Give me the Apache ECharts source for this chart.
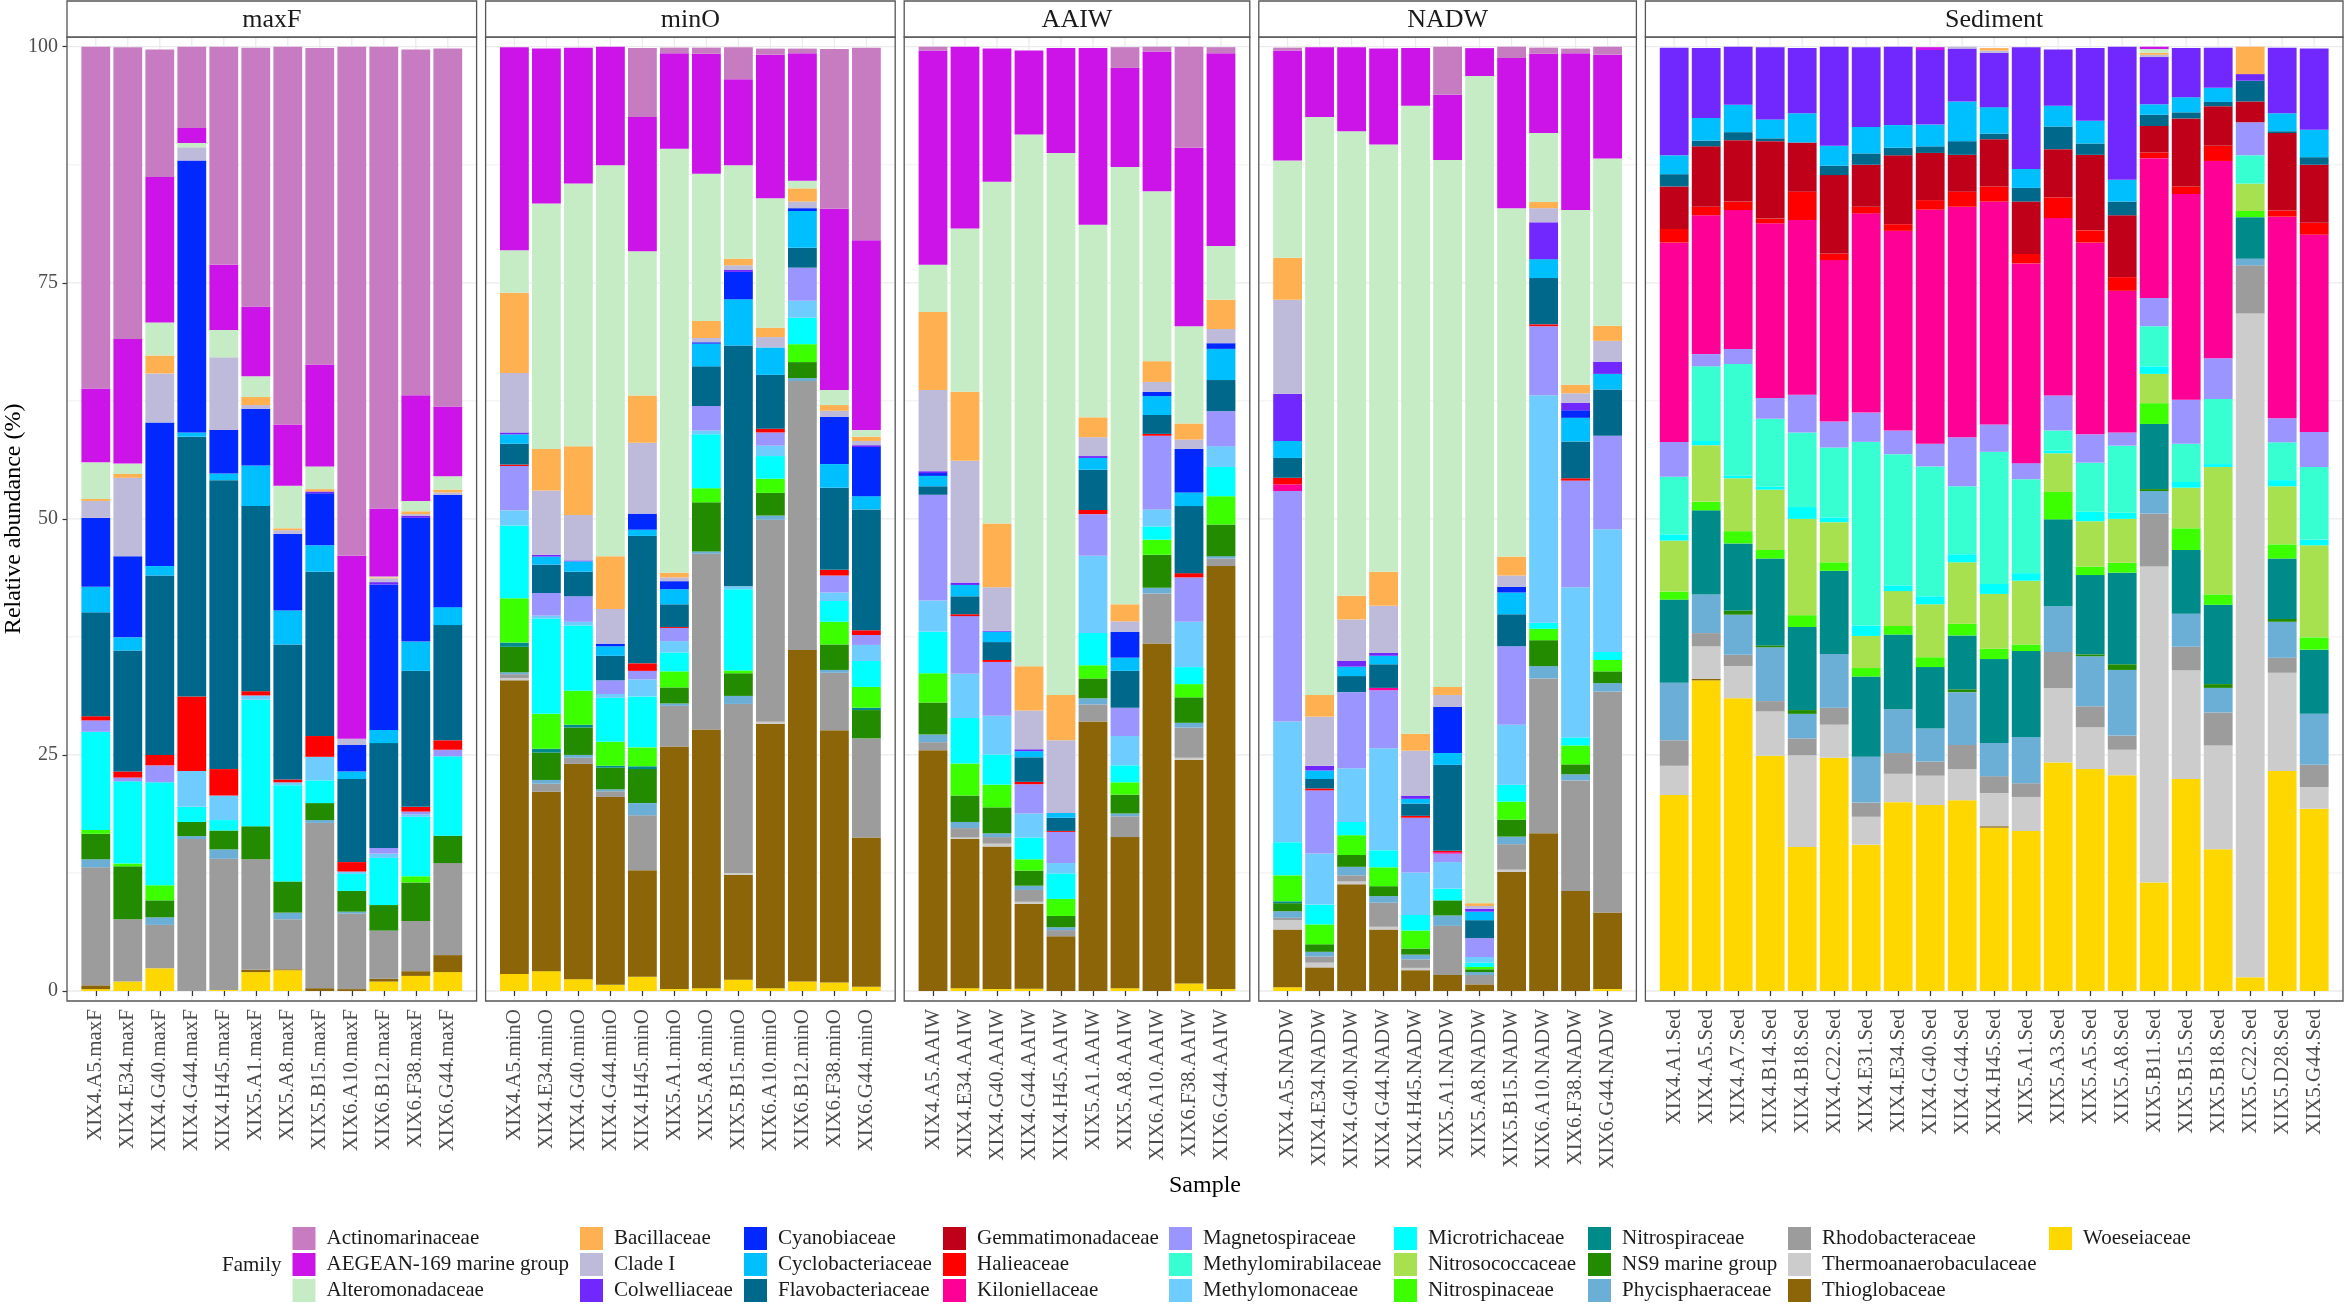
<!DOCTYPE html>
<html><head><meta charset="utf-8">
<script src="https://cdn.jsdelivr.net/npm/echarts@6/dist/echarts.min.js"></script>
<style>html,body{margin:0;padding:0;background:#fff}#chart{width:2347px;height:1304px}</style>
</head><body><div id="chart"></div>
<script>
// ---------------- sample (category) labels per facet ----------------
const maxFSamples = ['XIX4.A5.maxF','XIX4.E34.maxF','XIX4.G40.maxF','XIX4.G44.maxF','XIX4.H45.maxF','XIX5.A1.maxF','XIX5.A8.maxF','XIX5.B15.maxF','XIX6.A10.maxF','XIX6.B12.maxF','XIX6.F38.maxF','XIX6.G44.maxF'];
const minOSamples = ['XIX4.A5.minO','XIX4.E34.minO','XIX4.G40.minO','XIX4.G44.minO','XIX4.H45.minO','XIX5.A1.minO','XIX5.A8.minO','XIX5.B15.minO','XIX6.A10.minO','XIX6.B12.minO','XIX6.F38.minO','XIX6.G44.minO'];
const aaiwSamples = ['XIX4.A5.AAIW','XIX4.E34.AAIW','XIX4.G40.AAIW','XIX4.G44.AAIW','XIX4.H45.AAIW','XIX5.A1.AAIW','XIX5.A8.AAIW','XIX6.A10.AAIW','XIX6.F38.AAIW','XIX6.G44.AAIW'];
const nadwSamples = ['XIX4.A5.NADW','XIX4.E34.NADW','XIX4.G40.NADW','XIX4.G44.NADW','XIX4.H45.NADW','XIX5.A1.NADW','XIX5.A8.NADW','XIX5.B15.NADW','XIX6.A10.NADW','XIX6.F38.NADW','XIX6.G44.NADW'];
const sedSamples = ['XIX4.A1.Sed','XIX4.A5.Sed','XIX4.A7.Sed','XIX4.B14.Sed','XIX4.B18.Sed','XIX4.C22.Sed','XIX4.E31.Sed','XIX4.E34.Sed','XIX4.G40.Sed','XIX4.G44.Sed','XIX4.H45.Sed','XIX5.A1.Sed','XIX5.A3.Sed','XIX5.A5.Sed','XIX5.A8.Sed','XIX5.B11.Sed','XIX5.B15.Sed','XIX5.B18.Sed','XIX5.C22.Sed','XIX5.D28.Sed','XIX5.G44.Sed'];
const facetNames = ['maxF','minO','AAIW','NADW','Sediment'];
const yTicks = [0,25,50,75,100];

// ---------------- relative abundance (%) per family ----------------
// order inside each array: maxF(12) | minO(12) | AAIW(10) | NADW(11) | Sediment(21)
const actinomarinaceae = [36.2,30.9,13.5,8.6,23.3,27.4,40.1,33.5,53.9,49.0,36.6,37.9, 0,0,0,0,7.3,0.6,0.65,3.4,0.65,0.5,16.9,20.4, 0.4,0,0,0,0,0,2.2,0.6,10.7,0.65, 0.3,0,0,0,0,5.1,0,1.2,0.65,0.5,0.85, 0,0,0,0,0,0,0,0,0,0,0,0,0,0,0,0,0,0,0,0,0];
const aegean169 = [7.8,13.2,15.4,1.6,6.9,7.4,6.5,10.8,19.4,7.2,11.2,7.4, 21.5,16.4,14.4,12.8,14.2,10.1,12.7,9.1,15.2,13.5,19.2,20.1, 22.7,19.25,14.1,8.9,11.1,18.7,10.5,14.8,18.9,20.4, 11.65,7.4,8.9,10.15,6.1,6.9,2.95,15.9,8.4,16.6,11.0, 0,0,0,0,0,0,0,0,0.3,0,0,0,0,0,0,0.25,0,0,0,0,0];
const alteromonadaceae = [3.9,1.1,3.5,0.45,2.9,2.2,4.5,2.4,0,0.1,1.1,1.4, 4.5,26.0,27.8,41.4,15.3,44.9,15.6,9.9,13.7,0.8,1.6,0.7, 5.0,17.3,36.2,56.3,57.4,20.4,46.3,18.0,10.3,5.7, 10.3,61.2,49.2,45.25,66.5,55.8,87.6,36.9,7.3,18.5,17.7, 0,0,0,0,0,0,0,0,0,0,0,0,0,0,0,0.4,0,0,0,0,0];
const bacillaceae = [0.2,0.4,1.9,0,0,0.85,0.2,0.25,0,0.1,0.3,0.3, 8.5,4.4,7.3,5.6,5.0,0.5,1.8,0.7,1.0,1.4,0.6,0.45, 8.25,7.3,6.75,4.7,4.8,2.1,1.8,2.2,1.7,3.1, 4.45,2.3,2.5,3.6,1.8,0.85,0.3,2.0,0.65,0.9,1.6, 0,0,0,0,0,0,0,0,0,0,0.25,0,0,0,0,0.2,0,0,2.9,0,0];
const cladeI = [1.8,8.3,5.2,1.4,7.7,0.4,0.4,0,0.65,0.4,0.2,0.25, 6.3,6.8,4.8,3.7,7.5,0.4,0.45,0.5,1.1,0.7,0.65,0.45, 8.6,12.9,4.6,4.1,7.7,2.0,1.1,1.05,1.0,1.5, 9.95,5.2,4.4,5.0,4.8,1.25,0.3,1.2,1.5,1.0,2.2, 0,0,0,0,0,0,0,0,0,0.3,0.25,0,0,0,0,0.25,0,0,0,0,0];
const colwelliaceae = [0,0,0,0,0,0,0,0.2,0,0.25,0.2,0, 0.2,0.2,0.1,0,0,0,0,0.2,0,0,0,0.2, 0.2,0.25,0.1,0.2,0,0.2,0,0,0,0, 5.0,0.5,0.6,0.3,0.3,0,0.3,0,3.9,0.8,1.3, 11.4,7.4,6.15,7.65,6.9,10.5,8.45,8.3,7.9,5.6,5.75,12.9,5.95,7.7,14.2,5.0,5.2,4.25,0.7,6.95,8.6];
const cyanobiaceae = [7.3,8.6,15.2,28.8,4.6,6.0,8.1,5.5,2.8,15.4,13.1,11.9, 0,0,0,0.25,1.7,0.85,0.15,2.9,0,0.3,5.0,5.2, 0.3,0,0,0,0,0,2.75,0.45,4.6,0.6, 0,0,0,0,0,4.9,0,0.6,0,0.8,0, 0,0,0,0,0,0,0,0,0,0,0,0,0,0,0,0,0,0,0,0,0];
const cyclobacteriaceae = [2.7,1.4,1.0,0.45,0.7,4.3,3.6,2.8,0.8,1.4,3.1,1.9, 1.0,0.85,1.1,1.0,0.65,1.6,2.4,4.9,2.9,3.9,2.5,1.4, 1.1,1.2,1.1,0.65,0.5,1.25,1.4,2.0,1.45,3.3, 1.8,0.9,1.0,0.9,0.5,1.25,0.9,2.3,2.0,2.5,1.65, 2.0,2.4,2.9,2.0,3.1,2.1,2.8,2.4,2.3,4.2,2.8,2.0,2.2,2.4,2.3,1.1,1.6,1.5,0,1.9,2.9];
const flavobacteriaceae = [11.0,12.8,19.0,27.5,30.6,19.6,14.3,17.4,8.8,11.1,14.4,12.2, 2.2,3.0,2.6,2.6,13.5,2.4,4.2,25.5,5.7,2.1,8.7,12.8, 0.9,1.9,1.9,2.6,1.4,4.25,3.9,2.0,7.1,3.3, 2.1,1.0,1.7,2.5,1.3,9.1,1.9,3.4,4.9,3.9,4.9, 1.3,0.6,0.85,0.3,0,1.0,1.2,0.8,0.7,1.45,0.6,1.45,2.4,1.2,1.45,1.2,0.65,0.45,2.2,0.2,0.8];
const gemmatimonadaceae = [0,0,0,0,0,0,0,0,0,0,0,0, 0,0,0,0,0,0,0,0,0,0,0,0, 0,0,0,0,0,0,0,0,0,0, 0,0,0,0,0,0,0,0,0,0,0, 4.5,6.4,6.5,8.2,5.2,8.3,4.45,7.3,5.0,3.9,5.0,5.55,5.1,8.0,6.55,2.8,7.2,4.2,2.2,8.2,6.15];
const halieaceae = [0.45,0.65,1.1,7.9,2.8,0.45,0.3,2.2,1.0,0,0.5,1.0, 0.15,0,0,0,0.8,0.1,0,0,0.4,0,0.6,0.5, 0,0.2,0.2,0.25,0.1,0.45,0,0.2,0.45,0, 0.7,0.2,0,0,0.2,0.15,0,0,0.2,0.25,0, 1.45,0.9,0.9,0.5,3.0,0.7,0.7,0.7,1.0,1.6,1.6,1.0,2.2,1.3,1.45,0.6,0.8,1.6,0,0.65,1.25];
const kiloniellaceae = [0,0,0,0,0,0,0,0,0,0,0,0, 0,0,0,0,0,0,0,0,0,0,0,0, 0,0,0,0,0,0,0,0,0,0, 0.7,0,0,0.25,0,0.15,0,0,0,0,0, 21.1,14.7,14.7,18.5,18.5,17.1,21.1,21.15,24.8,24.4,23.6,21.15,18.8,20.3,15.0,14.8,21.8,20.9,0,21.35,20.9];
const magnetospiraceae = [1.2,0.4,1.8,0,0,0,0,0,0,0.6,0.3,0.7, 4.7,2.4,2.7,1.45,0.9,1.4,2.6,0,1.4,3.5,1.8,1.05, 11.2,6.1,5.7,3.1,3.3,4.4,3.0,7.8,4.7,3.7, 24.4,6.7,8.05,6.15,5.8,0.9,2.0,8.3,7.3,11.3,9.9, 3.7,1.3,1.6,2.2,4.0,2.75,3.1,2.5,2.4,5.2,2.9,1.7,3.7,3.0,1.4,3.0,4.65,4.3,3.5,2.55,3.7];
const methylomirabilaceae = [0,0,0,0,0,0,0,0,0,0,0,0, 0,0,0,0,0,0,0,0,0,0,0,0, 0,0,0,0,0,0,0,0,0,0, 0,0,0,0,0,0,0,0,0,0,0, 6.1,7.9,11.8,7.2,7.9,7.4,19.45,13.9,13.75,7.2,14.0,9.95,2.1,5.2,7.1,4.25,4.05,6.9,3.0,4.0,7.7];
const methylomonaceae = [0,0,0,3.8,2.6,0.45,0.3,2.5,0.25,0.45,0.25,0, 1.6,0.3,0.4,0.4,1.8,1.2,0.4,0.3,1.1,1.8,0.9,1.7, 3.3,4.7,4.1,2.55,1.1,8.2,3.1,1.8,4.8,2.2, 12.8,5.4,5.7,10.8,4.5,2.8,0.6,6.35,24.1,15.9,13.0, 0,0,0,0,0,0,0,0,0,0,0,0,0,0,0,0,0,0,0,0,0];
const microtrichaceae = [10.4,8.7,10.9,1.6,1.1,13.4,10.2,2.4,1.8,5.0,6.3,8.4, 7.7,10.1,6.9,4.65,5.4,2.0,5.7,8.6,2.4,2.8,2.2,2.75, 4.4,4.8,3.2,2.3,2.7,3.4,1.8,1.4,1.8,3.1, 3.5,2.1,1.4,1.8,1.65,1.25,0.45,1.8,0.65,0.85,0.85, 0.65,0.45,0.3,0.3,1.25,0.5,1.1,0.6,0.85,0.85,1.05,0.8,0.3,1.0,0.65,0.8,0.6,0.3,0,0.65,0.6];
const nitrosococcaceae = [0,0,0,0,0,0,0,0,0,0,0,0, 0,0,0,0,0,0,0,0,0,0,0,0, 0,0,0,0,0,0,0,0,0,0, 0,0,0,0,0,0,0,0,0,0,0, 5.4,6.0,5.6,6.4,10.2,4.25,3.4,3.7,5.6,6.5,5.8,6.75,4.1,4.8,4.65,3.1,4.3,13.5,2.9,6.15,9.75];
const nitrospinaceae = [0.4,0.3,1.6,0,0,0,0,0,0,0,0.65,0, 4.7,3.7,3.6,2.55,2.0,1.7,1.5,0.3,1.5,1.9,2.4,2.2, 3.1,3.4,2.4,1.2,1.8,1.4,1.3,1.6,1.4,3.0, 2.75,2.1,2.1,2.0,1.9,0,0.25,1.9,1.2,2.0,1.2, 0.85,0.9,1.3,0.9,1.25,0.9,0.9,0.9,1.05,1.25,1.1,0.7,2.9,0.9,1.05,2.2,2.3,1.1,0.65,1.5,1.3];
const nitrospiraceae = [0,0,0,0,0,0,0,0,0,0,0,0, 0.45,0.4,0.3,0.2,0.3,0,0,0,0,0,0,0.25, 0,0,0,0,0,0,0,0,0,0, 0.2,0,0,0,0,0,0,0,0,0,0, 8.8,8.9,7.1,9.2,8.8,8.8,8.5,7.9,6.5,5.7,8.9,9.1,9.2,8.4,9.7,6.9,6.75,8.4,4.4,6.4,6.8];
const ns9MarineGroup = [2.7,5.6,1.8,1.5,2.0,3.5,3.3,1.8,2.2,2.7,4.1,2.9, 2.7,2.9,2.9,2.3,3.6,1.7,5.2,2.4,2.4,1.7,2.7,3.0, 3.4,2.8,2.75,1.6,1.2,2.1,2.0,3.5,2.7,3.35, 0.85,0.8,1.25,1.05,0.65,1.6,0.3,1.8,2.75,1.05,1.25, 0,0,0.45,0.2,0.4,0,0,0,0,0.3,0,0,0,0.2,0.6,0.2,0,0.4,0,0.3,0];
const phycisphaeraceae = [0.85,0,0.8,0.3,1.0,0,0.7,0.3,0.2,0,0,0, 0.2,0.4,0.3,0.2,1.3,0.25,0.25,0.85,0.45,0.3,0.3,0, 0.8,0.65,0.4,0.45,0.3,0.65,0.3,0.6,0.5,0.25, 0.7,0.5,0.9,0.7,0.5,1.1,0.3,0.8,1.3,0.65,0.9, 6.1,4.1,4.25,5.7,2.6,5.7,4.85,4.65,3.5,5.6,3.5,4.9,4.85,5.3,6.95,2.4,3.5,2.6,0.7,3.8,5.4];
const rhodobacteraceae = [12.5,6.6,4.6,16.1,13.9,11.7,5.3,17.5,8.0,5.1,5.3,9.75, 0.4,0.85,0.65,0.6,5.8,4.3,18.6,17.9,21.4,28.5,6.1,10.5, 0.85,1.0,0.7,1.25,0.65,1.8,2.2,5.3,3.2,0.8, 0.25,0.65,0.65,2.55,0.9,5.2,1.0,2.7,16.4,11.7,23.4, 2.7,1.4,1.2,1.1,1.8,1.8,1.5,2.2,1.5,2.55,1.8,1.45,3.8,2.2,1.5,5.6,2.5,3.5,5.1,1.6,2.35];
const thermoanaerobaculaceae = [0,0,0,0,0,0,0,0,0,0,0,0, 0.25,0,0,0,0,0,0,0.2,0.2,0,0,0, 0,0.15,0.3,0.2,0,0,0,0,0.2,0, 1.0,0.5,0.3,0.3,0.25,0,0,0.25,0,0,0, 3.1,3.45,3.4,4.7,9.7,3.5,2.95,3.0,3.1,3.3,3.5,3.6,7.9,4.45,2.7,33.45,11.5,11.0,70.3,10.4,2.3];
const thioglobaceae = [0.4,0,0,0,0,0.25,0.1,0.3,0.2,0.3,0.5,1.8, 31.1,19.0,22.8,19.9,11.3,25.7,27.4,11.1,28.0,35.1,26.7,15.8, 25.5,15.8,15.1,9.0,5.8,28.55,16.0,36.8,23.7,44.8, 6.1,2.5,11.3,6.5,2.2,1.7,0.7,12.6,16.7,10.6,8.1, 0,0.15,0,0,0,0,0,0,0,0,0.15,0,0,0,0,0,0,0,0,0,0];
const woeseiaceae = [0.2,1.0,2.4,0,0.1,2.0,2.2,0,0,1.0,1.6,2.0, 1.8,2.1,1.25,0.65,1.5,0.2,0.3,1.2,0.3,1.0,0.9,0.45, 0,0.3,0.2,0.25,0,0,0.3,0,0.8,0.2, 0.4,0,0,0,0,0,0,0,0,0,0.2, 20.75,32.9,31.0,24.9,15.25,24.7,15.5,20.0,19.7,20.2,17.3,16.95,24.2,23.5,22.85,11.5,22.45,15.0,1.45,23.3,19.3];

// legend order (first = top of stack)
const familyNames = ['Actinomarinaceae','AEGEAN-169 marine group','Alteromonadaceae','Bacillaceae','Clade I','Colwelliaceae','Cyanobiaceae','Cyclobacteriaceae','Flavobacteriaceae','Gemmatimonadaceae','Halieaceae','Kiloniellaceae','Magnetospiraceae','Methylomirabilaceae','Methylomonaceae','Microtrichaceae','Nitrosococcaceae','Nitrospinaceae','Nitrospiraceae','NS9 marine group','Phycisphaeraceae','Rhodobacteraceae','Thermoanaerobaculaceae','Thioglobaceae','Woeseiaceae'];
const familyValues = [actinomarinaceae,aegean169,alteromonadaceae,bacillaceae,cladeI,colwelliaceae,cyanobiaceae,cyclobacteriaceae,flavobacteriaceae,gemmatimonadaceae,halieaceae,kiloniellaceae,magnetospiraceae,methylomirabilaceae,methylomonaceae,microtrichaceae,nitrosococcaceae,nitrospinaceae,nitrospiraceae,ns9MarineGroup,phycisphaeraceae,rhodobacteraceae,thermoanaerobaculaceae,thioglobaceae,woeseiaceae];

// ---------------- styles ----------------
const palette = ['#C77CC2','#CC14E8','#C6ECC6','#FFB050','#BEBADA','#7028FF','#0028FF','#00BFFF','#00688B','#C00018','#FF0000','#FF0096','#9B96FF','#38FFD2','#6ECCFF','#00FFFF','#A8E150','#3CFF00','#008B8B','#228B00','#6BAED6','#9C9C9C','#CCCCCC','#8B6508','#FFD700'];
const FONT = '"Liberation Serif","Times New Roman",serif';
const S = 32, GAP = 9, EXP = 0.9, LEFT0 = 67;
const Y100 = 46.7, Y0 = 991, PANEL_TOP = 37, PANEL_BOTTOM = 1001, STRIP_TOP = 1;

const facetSamples = [maxFSamples, minOSamples, aaiwSamples, nadwSamples, sedSamples];
let cx = LEFT0;
const panels = facetSamples.map(s => { const n = s.length; const w = (n - 1 + 2*EXP) * S; const p = {left: cx, width: w, n}; cx += w + GAP; return p; });

const grids = [], xAxes = [], yAxes = [], series = [];
let offset = 0;
facetSamples.forEach((samples, i) => {
  const p = panels[i];
  grids.push({left: p.left + (EXP-0.5)*S, width: p.n*S, top: Y100, height: Y0 - Y100});
  xAxes.push({type:'category', gridIndex:i, data:samples, offset: PANEL_BOTTOM - Y0,
    axisLine:{show:false}, axisTick:{show:true, alignWithLabel:true, length:5, lineStyle:{color:'#333', width:1.2}},
    axisLabel:{rotate:90, interval:0, fontSize:21, fontFamily:FONT, color:'#4D4D4D', margin:8}, splitLine:{show:false}});
  yAxes.push({type:'value', gridIndex:i, min:0, max:100, interval:25, show: i===0, offset:(EXP-0.5)*S,
    axisLine:{show:false}, axisTick:{show:true, length:4.5, lineStyle:{color:'#333', width:1.2}},
    axisLabel:{fontSize:20, fontFamily:FONT, color:'#4D4D4D', margin:9}, splitLine:{show:false}});
  const start = offset, end = offset + p.n;
  for (let k = familyNames.length - 1; k >= 0; k--) {
    series.push({type:'bar', name: familyNames[k], xAxisIndex:i, yAxisIndex:i, stack:'f'+i, barCategoryGap:'10%',
      data: familyValues[k].slice(start, end), itemStyle:{color: palette[k]}, emphasis:{disabled:true}, z:2});
  }
  offset = end;
});

const legendCols = [[0,1,2],[3,4,5],[6,7,8],[9,10,11],[12,13,14],[15,16,17],[18,19,20],[21,22,23],[24]];
const legendX = [292.5,580,744,943,1169,1394,1588,1788,2049];
const legends = legendCols.map((c, j) => ({orient:'vertical', left: legendX[j], top:1227, padding:0,
  itemWidth:23, itemHeight:23, itemGap:3, icon:'rect', selectedMode:false,
  textStyle:{fontSize:21, fontFamily:FONT, color:'#1A1A1A', padding:[0,0,0,6]},
  data: c.map(k => familyNames[k])}));

const chart = echarts.init(document.getElementById('chart'), null, {renderer:'canvas'});
chart.setOption({animation:false, backgroundColor:'#fff', grid:grids, xAxis:xAxes, yAxis:yAxes, legend:legends, series, tooltip:{show:false}});

// panel decorations (grid lines, borders, strips, titles) positioned via the axes' own scales
const g = [];
panels.forEach((p, i) => {
  [12.5,37.5,62.5,87.5].forEach(v => { const y = chart.convertToPixel({yAxisIndex:0}, v);
    g.push({type:'line', silent:true, z:0, shape:{x1:p.left, y1:y, x2:p.left+p.width, y2:y}, style:{stroke:'#EBEBEB', lineWidth:0.7}}); });
  yTicks.forEach(v => { const y = chart.convertToPixel({yAxisIndex:0}, v);
    g.push({type:'line', silent:true, z:0, shape:{x1:p.left, y1:y, x2:p.left+p.width, y2:y}, style:{stroke:'#EBEBEB', lineWidth:1.3}}); });
  facetSamples[i].forEach((s, j) => { const x = chart.convertToPixel({xAxisIndex:i}, j);
    g.push({type:'line', silent:true, z:0, shape:{x1:x, y1:PANEL_TOP, x2:x, y2:PANEL_BOTTOM}, style:{stroke:'#EBEBEB', lineWidth:1.3}}); });
  g.push({type:'rect', silent:true, z:10, shape:{x:p.left, y:PANEL_TOP, width:p.width, height:PANEL_BOTTOM-PANEL_TOP}, style:{fill:null, stroke:'#555', lineWidth:1.3}});
  g.push({type:'rect', silent:true, z:10, shape:{x:p.left, y:STRIP_TOP, width:p.width, height:PANEL_TOP-STRIP_TOP}, style:{fill:'#fff', stroke:'#555', lineWidth:1.3}});
  g.push({type:'text', silent:true, z:11, x:p.left+p.width/2, y:(STRIP_TOP+PANEL_TOP)/2+1,
    style:{text:facetNames[i], fontSize:26, fontFamily:FONT, fill:'#1A1A1A', textAlign:'center', textVerticalAlign:'middle'}});
});
const plotCenterX = (panels[0].left + panels[4].left + panels[4].width) / 2;
g.push({type:'text', silent:true, z:11, x:plotCenterX, y:1186, style:{text:'Sample', fontSize:24, fontFamily:FONT, fill:'#000', textAlign:'center', textVerticalAlign:'middle'}});
g.push({type:'text', silent:true, z:11, x:14, y:(Y0+Y100)/2, rotation:Math.PI/2, style:{text:'Relative abundance (%)', fontSize:24, fontFamily:FONT, fill:'#000', textAlign:'center', textVerticalAlign:'middle'}});
g.push({type:'text', silent:true, z:11, x:222, y:1265, style:{text:'Family', fontSize:21, fontFamily:FONT, fill:'#1A1A1A', textAlign:'left', textVerticalAlign:'middle'}});
chart.setOption({graphic: g});
</script></body></html>
